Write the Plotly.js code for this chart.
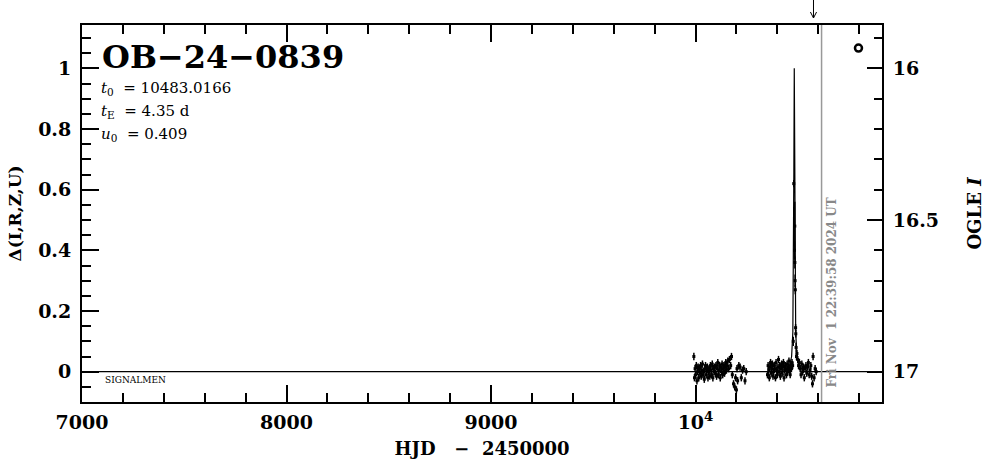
<!DOCTYPE html>
<html>
<head>
<meta charset="utf-8">
<script src="https://cdn.plot.ly/plotly-3.0.1.min.js"></script>
<style>html,body{margin:0;padding:0;background:#fff;}</style>
</head>
<body>
<div id="chart" style="width:986px;height:459px;"></div>
<script>
// ---- data ----
const season1X = [9992, 9995, 9998, 10001, 10004, 10007, 10010, 10013, 10016, 10019,
  10022, 10025, 10028, 10031, 10034, 10037, 10040, 10043, 10046, 10049,
  10052, 10055, 10058, 10061, 10064, 10067, 10070, 10073, 10076, 10079,
  10082, 10085, 10088, 10091, 10094, 10097, 10100, 10103, 10106, 10109,
  10112, 10115, 10118, 10121, 10124, 10127, 10130, 10133, 10136, 10139,
  10142, 10145, 10148, 10151, 10154, 10158, 10162, 10166, 10172, 10176,
  10180, 10186, 10192, 10196, 10200, 10203, 10206, 10212, 10218, 10224,
  10230, 10236, 10242, 10248];
const season1Y = [0.05, -0.02, 0.01, -0.01, 0.02, -0.03, 0.00, 0.015, -0.02, 0.01,
  -0.005, 0.02, -0.015, 0.005, 0.025, -0.01, 0.0, -0.025, 0.01, 0.02,
  -0.01, 0.005, 0.015, -0.02, 0.0, 0.01, -0.015, 0.02, 0.005, -0.01,
  0.025, -0.02, 0.01, 0.0, 0.015, -0.005, 0.02, -0.015, 0.01, 0.03,
  -0.01, 0.005, 0.02, -0.02, 0.015, 0.0, 0.025, -0.01, 0.01, 0.02,
  -0.005, 0.015, 0.03, 0.005, 0.02, 0.035, 0.01, 0.04, 0.02, 0.05,
  -0.01, -0.04, -0.05, -0.02, -0.06, 0.01, -0.03, 0.02, 0.015, -0.02,
  0.005, 0.01, -0.03, 0.0];
const season2X = [10352, 10355, 10358, 10361, 10364, 10367, 10370, 10373, 10376, 10379,
  10382, 10385, 10388, 10391, 10394, 10397, 10400, 10403, 10406, 10409,
  10412, 10415, 10418, 10421, 10424, 10427, 10430, 10433, 10436, 10439,
  10442, 10445, 10448, 10451, 10454, 10457, 10460, 10463, 10466, 10469,
  10472, 10475,
  10500, 10504, 10508, 10512, 10516, 10520, 10524, 10528, 10532, 10536,
  10540, 10544, 10548, 10552, 10556, 10560, 10564, 10568, 10572, 10575,
  10580, 10585, 10590];
const season2Y = [-0.01, 0.02, 0.005, -0.02, 0.015, 0.03, -0.005, 0.01, 0.025, -0.015,
  0.0, 0.02, 0.01, -0.02, 0.03, 0.005, -0.01, 0.015, 0.04, 0.0,
  0.02, -0.015, 0.01, 0.025, -0.005, 0.015, 0.03, -0.02, 0.005, 0.02,
  0.01, -0.01, 0.025, 0.0, 0.015, 0.035, 0.005, -0.01, 0.02, 0.01,
  0.03, 0.02,
  0.04, 0.02, 0.03, 0.01, -0.01, 0.025, 0.0, 0.015, -0.02, 0.01,
  0.02, -0.005, 0.015, 0.03, -0.01, 0.005, 0.02, -0.015, -0.04, 0.05,
  -0.02, 0.01, 0.0];
const peakX   = [10478, 10480.5, 10484, 10485.5, 10486, 10487, 10488, 10489.5, 10490.5, 10492, 10494, 10496];
const peakY   = [0.10, 0.62, 0.40, 0.48, 0.36, 0.30, 0.27, 0.145, 0.125, 0.08, 0.05, 0.06];
const peakErr = [0.015, 0.012, 0.03, 0.08, 0.02, 0.02, 0.015, 0.012, 0.012, 0.015, 0.012, 0.012];
const modelX = [7000, 10440, 10460, 10470, 10476, 10479, 10481, 10483, 10485, 10487, 10490, 10496, 10506, 10530, 10912];
const modelY = [0, 0, 0.02, 0.05, 0.13, 0.33, 0.66, 1.0, 0.66, 0.33, 0.13, 0.05, 0.02, 0, 0];
const latestX = [10797];
const latestY = [1.067];
const nowHJD = 10616.44;
const arrowHJD = 10577;

const xTickVals = [7000, 8000, 9000, 10000];
const xTickText = ['7000', '8000', '9000', '10<sup>4</sup>'];
const yTickVals = [0, 0.2, 0.4, 0.6, 0.8, 1];
const yTickText = ['0', '0.2', '0.4', '0.6', '0.8', '1'];
const y2TickVals = [16, 16.5, 17];
const y2TickText = ['16', '16.5', '17'];

const NB = '\u00a0';
const eventName = 'OB−24−0839';
const paramLines = ['<i>t</i><sub>0</sub>' + NB + NB + '=' + NB + '10483.0166',
                    '<i>t</i><sub>E</sub>' + NB + NB + '=' + NB + '4.35' + NB + 'd',
                    '<i>u</i><sub>0</sub>' + NB + NB + '=' + NB + '0.409'];
const dateText = 'Fri Nov' + NB + NB + '1 22:39:58 2024 UT';
const xTitle = 'HJD' + NB + NB + NB + '−' + NB + NB + '2450000';

// ---- drawing ----
const FF = 'DejaVu Serif';
const ptStyle = {mode: 'markers', type: 'scatter', marker: {color: 'black', size: 3, symbol: 'square'}, hoverinfo: 'skip', cliponaxis: false};
const traces = [
  {x: modelX, y: modelY, mode: 'lines', type: 'scatter', line: {color: 'black', width: 1.2}, hoverinfo: 'skip'},
  Object.assign({x: season1X, y: season1Y, error_y: {type: 'constant', value: 0.012, thickness: 1.5, width: 0, color: 'black'}}, ptStyle),
  Object.assign({x: season2X, y: season2Y, error_y: {type: 'constant', value: 0.012, thickness: 1.5, width: 0, color: 'black'}}, ptStyle),
  Object.assign({x: peakX, y: peakY, error_y: {type: 'data', array: peakErr, thickness: 1.5, width: 0, color: 'black'}}, ptStyle),
  {x: latestX, y: latestY, mode: 'markers', type: 'scatter', marker: {symbol: 'circle-open', size: 7, color: 'black', line: {width: 2.5, color: 'black'}}, hoverinfo: 'skip'},
  {x: [nowHJD], y: [16.5], yaxis: 'y2', mode: 'markers', type: 'scatter', marker: {opacity: 0}, hoverinfo: 'skip'}
];

const axCommon = {showgrid: false, zeroline: false, showline: true, linewidth: 2, linecolor: 'black',
  ticks: 'inside', tickwidth: 2, tickcolor: 'black',
  tickfont: {family: FF, size: 19, weight: 'bold', color: 'black'}};

const pyPix = p => (402 - p) / 377; // pixel row -> paper y

const layout = {
  width: 986, height: 459,
  margin: {l: 82, r: 104, t: 25, b: 57},
  paper_bgcolor: 'white', plot_bgcolor: 'white', showlegend: false,
  font: {family: FF, color: 'black'},
  xaxis: Object.assign({}, axCommon, {
    range: [7000, 10912], tickmode: 'array', tickvals: xTickVals, ticktext: xTickText,
    ticklen: 17, mirror: 'ticks', ticklabelstandoff: 2,
    minor: {tickmode: 'linear', tick0: 7000, dtick: 200, ticks: 'inside', ticklen: 9, tickwidth: 2, tickcolor: 'black', showgrid: false},
    title: {text: xTitle, font: {family: FF, size: 18, weight: 'bold'}, standoff: 15}
  }),
  yaxis: Object.assign({}, axCommon, {
    range: [-0.1, 1.143], tickmode: 'array', tickvals: yTickVals, ticktext: yTickText,
    ticklen: 17, mirror: false, ticklabelstandoff: 5,
    minor: {tickmode: 'linear', tick0: 0, dtick: 0.05, ticks: 'inside', ticklen: 9, tickwidth: 2, tickcolor: 'black', showgrid: false},
    title: {text: 'Δ(I,R,Z,U)', font: {family: FF, size: 17, weight: 'bold'}, standoff: 12}
  }),
  yaxis2: Object.assign({}, axCommon, {
    overlaying: 'y', side: 'right', anchor: 'x',
    range: [17.1, 15.857], tickmode: 'array', tickvals: y2TickVals, ticktext: y2TickText,
    ticklen: 15, ticklabelstandoff: 5,
    minor: {tickmode: 'linear', tick0: 16, dtick: 0.1, ticks: 'inside', ticklen: 8, tickwidth: 2, tickcolor: 'black', showgrid: false},
    title: {text: 'OGLE <i>I</i>', font: {family: FF, size: 18, weight: 'bold'}, standoff: 30}
  }),
  shapes: [
    {type: 'line', xref: 'x', yref: 'paper', x0: nowHJD, x1: nowHJD, y0: 0, y1: 1, line: {color: '#999999', width: 1.5}},
    {type: 'line', xref: 'x', yref: 'paper', x0: arrowHJD, x1: arrowHJD, y0: pyPix(18), y1: pyPix(0), line: {color: 'black', width: 1}},
    {type: 'line', xref: 'x', yref: 'paper', x0: arrowHJD - 15, x1: arrowHJD, y0: pyPix(12), y1: pyPix(18), line: {color: 'black', width: 1}},
    {type: 'line', xref: 'x', yref: 'paper', x0: arrowHJD + 15, x1: arrowHJD, y0: pyPix(12), y1: pyPix(18), line: {color: 'black', width: 1}}
  ],
  annotations: [
    {text: eventName, xref: 'paper', yref: 'paper', x: 18 / 800, y: pyPix(57), xanchor: 'left', yanchor: 'middle', showarrow: false,
      font: {family: FF, size: 32, weight: 'bold', color: 'black'}},
    {text: paramLines[0], xref: 'paper', yref: 'paper', x: 17 / 800, y: pyPix(88), xanchor: 'left', yanchor: 'middle', showarrow: false,
      font: {family: FF, size: 15, color: 'black'}},
    {text: paramLines[1], xref: 'paper', yref: 'paper', x: 17 / 800, y: pyPix(111), xanchor: 'left', yanchor: 'middle', showarrow: false,
      font: {family: FF, size: 15, color: 'black'}},
    {text: paramLines[2], xref: 'paper', yref: 'paper', x: 17 / 800, y: pyPix(134), xanchor: 'left', yanchor: 'middle', showarrow: false,
      font: {family: FF, size: 15, color: 'black'}},
    {text: 'SIGNALMEN', xref: 'paper', yref: 'paper', x: 21 / 800, y: pyPix(380), xanchor: 'left', yanchor: 'middle', showarrow: false,
      font: {family: FF, size: 9, color: 'black'}},
    {text: dateText, xref: 'x', yref: 'paper', x: nowHJD, xshift: 10, y: pyPix(293), xanchor: 'center', yanchor: 'middle', textangle: -90, showarrow: false,
      font: {family: FF, size: 12, weight: 'bold', color: '#888888'}}
  ]
};

Plotly.newPlot('chart', traces, layout, {staticPlot: true, displayModeBar: false});
</script>
</body>
</html>
